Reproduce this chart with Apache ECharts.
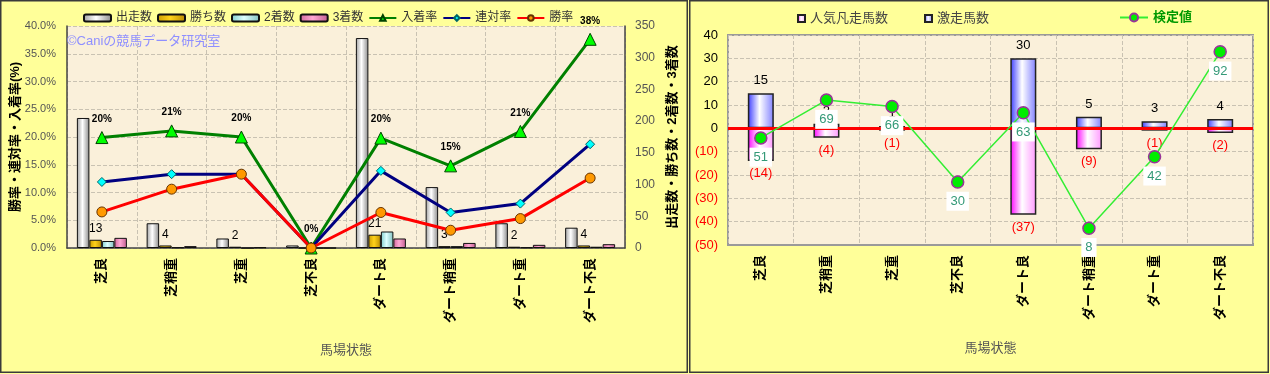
<!DOCTYPE html>
<html><head><meta charset="utf-8">
<script src="https://cdn.jsdelivr.net/npm/echarts@6/dist/echarts.min.js"></script>
<style>
html,body{margin:0;padding:0;background:#FFFF99;width:1270px;height:374px;overflow:hidden}
#c1{position:absolute;left:0;top:0;width:689px;height:374px}
#c2{position:absolute;left:689px;top:0;width:581px;height:374px}
</style></head><body>
<div id="c1"></div><div id="c2"></div>
<script>
// ---- data: left chart ----
const categories = ['芝良','芝稍重','芝重','芝不良','ダート良','ダート稍重','ダート重','ダート不良'];
const starts  = [205, 39, 15, 4, 331, 96, 39, 32];
const wins    = [13, 4, 2, 0, 21, 3, 2, 4];
const seconds = [11, 1, 0, 0, 26, 3, 1, 2];
const thirds  = [16, 3, 1, 0, 15, 8, 5, 6];
const placeRate    = [0.199, 0.211, 0.200, 0, 0.198, 0.148, 0.210, 0.376];
const quinellaRate = [0.119, 0.133, 0.133, 0, 0.139, 0.064, 0.080, 0.187];
const winRate      = [0.065, 0.106, 0.133, 0, 0.064, 0.032, 0.053, 0.126];
// ---- data: right chart ----
const upsetCounts = [15, 2, 1, 0, 30, 5, 3, 4];
const flopCounts  = [-14, -4, -1, 0, -37, -9, -1, -2];
const testValues  = [51, 69, 66, 30, 63, 8, 42, 92];

const FONT = "'Liberation Sans','Noto Sans CJK JP',sans-serif";
const grad = (a, b, c) => new echarts.graphic.LinearGradient(0, 0, 1, 0,
  [{offset: 0, color: a}, {offset: 0.45, color: b}, {offset: 1, color: c}]);
const gridLine = {show: true, lineStyle: {color: '#c9c2b2', type: 'dashed', width: 1}};

const left = echarts.init(document.getElementById('c1'));
left.setOption({
  animation: false,
  textStyle: {fontFamily: FONT},
  graphic: [
    {type: 'rect', shape: {x: 0.75, y: 0.75, width: 686.5, height: 371.5}, style: {fill: null, stroke: '#3a3a3a', lineWidth: 1.5}, silent: true, z: 100},
    {type: 'text', left: 67, top: 35, style: {text: '©Caniの競馬データ研究室', fill: '#8f8fff', font: '13px ' + FONT}, z: 50}
  ],
  legend: {left: 83, top: 12, padding: 0, itemWidth: 27, itemHeight: 7, itemGap: 5,
    textStyle: {fontSize: 12, color: '#333'},
    data: ['出走数', '勝ち数', '2着数', '3着数', '入着率', '連対率', '勝率']},
  grid: {left: 67, top: 26, width: 558, height: 222, show: true, backgroundColor: '#FAF0DA', borderWidth: 0,
    outerBoundsMode: 'none', containLabel: false},
  xAxis: {type: 'category', data: categories,
    axisTick: {show: false},
    axisLine: {onZero: false, lineStyle: {color: '#444', width: 1.5}},
    axisLabel: {rotate: 90, margin: 10, fontSize: 13, color: '#000', fontWeight: 'bold'},
    splitLine: gridLine,
    name: '馬場状態', nameLocation: 'middle', nameGap: 96, nameMoveOverlap: false,
    nameTextStyle: {fontSize: 13, color: '#555'}},
  yAxis: [
    {type: 'value', min: 0, max: 0.4, interval: 0.05,
      axisLine: {show: true, lineStyle: {color: '#444', width: 1.5}},
      axisTick: {show: false},
      axisLabel: {formatter: v => (v * 100).toFixed(1) + '%', fontSize: 11, color: '#555', margin: 11},
      splitLine: gridLine,
      name: '勝率・連対率・入着率(%)', nameLocation: 'middle', nameRotate: 90, nameGap: 45, nameMoveOverlap: false,
      nameTextStyle: {fontSize: 13, fontWeight: 'bold', color: '#000'}},
    {type: 'value', min: 0, max: 350, interval: 50, position: 'right',
      axisLine: {show: true, lineStyle: {color: '#444', width: 1.5}},
      axisTick: {show: false},
      splitLine: {show: false},
      axisLabel: {fontSize: 12, color: '#555', margin: 10},
      name: '出走数・勝ち数・2着数・3着数', nameLocation: 'middle', nameRotate: 90, nameGap: 38,
      nameTextStyle: {fontSize: 13, fontWeight: 'bold', color: '#000'}}
  ],
  series: [
    {name: '出走数', type: 'bar', yAxisIndex: 1, data: starts, barWidth: 12.5, barGap: '0%',
      itemStyle: {color: grad('#a0a0a0', '#ffffff', '#8a8a8a'), borderColor: '#111', borderWidth: 1}},
    {name: '勝ち数', type: 'bar', yAxisIndex: 1, data: wins, barWidth: 12.5, barGap: '0%',
      itemStyle: {color: grad('#c99a00', '#ffd21a', '#b88a00'), borderColor: '#111', borderWidth: 1},
      label: {show: true, position: 'top', distance: 5, fontSize: 12, color: '#000',
        formatter: p => p.value ? String(p.value) : ''}},
    {name: '2着数', type: 'bar', yAxisIndex: 1, data: seconds, barWidth: 12.5, barGap: '0%',
      itemStyle: {color: grad('#7fcccc', '#ddffff', '#7fbfbf'), borderColor: '#111', borderWidth: 1}},
    {name: '3着数', type: 'bar', yAxisIndex: 1, data: thirds, barWidth: 12.5, barGap: '0%',
      itemStyle: {color: grad('#d1679c', '#ffa8d4', '#c25c90'), borderColor: '#111', borderWidth: 1}},
    {name: '入着率', type: 'line', yAxisIndex: 0, data: placeRate, symbol: 'triangle', symbolSize: 12, z: 5,
      lineStyle: {color: '#008000', width: 3},
      itemStyle: {color: '#00ff00', borderColor: '#004400', borderWidth: 1},
      label: {show: true, position: 'top', distance: 7, fontSize: 10, fontWeight: 'bold', color: '#000',
        formatter: p => Math.round(p.value * 100) + '%'}},
    {name: '連対率', type: 'line', yAxisIndex: 0, data: quinellaRate, symbol: 'diamond', symbolSize: 9, z: 5,
      lineStyle: {color: '#000080', width: 3},
      itemStyle: {color: '#00ffff', borderColor: '#006666', borderWidth: 1}},
    {name: '勝率', type: 'line', yAxisIndex: 0, data: winRate, symbol: 'circle', symbolSize: 10, z: 5,
      lineStyle: {color: '#ff0000', width: 3},
      itemStyle: {color: '#ff9900', borderColor: '#663300', borderWidth: 1}}
  ]
});

const right = echarts.init(document.getElementById('c2'));
right.setOption({
  animation: false,
  textStyle: {fontFamily: FONT},
  graphic: [
    {type: 'rect', shape: {x: 0.75, y: 0.75, width: 578.5, height: 371.5}, style: {fill: null, stroke: '#3a3a3a', lineWidth: 1.5}, silent: true, z: 100}
  ],
  legend: [
    {left: 108, top: 12, padding: 0, itemWidth: 7, itemHeight: 7, itemGap: 36, icon: 'rect',
      textStyle: {fontSize: 13, color: '#444'}, data: ['人気凡走馬数', '激走馬数']},
    {left: 430, top: 11, padding: 0, itemWidth: 28, itemHeight: 10,
      textStyle: {fontSize: 13, color: '#009900', fontWeight: 'bold'}, data: ['検定値']}
  ],
  grid: {left: 39, top: 35, width: 525, height: 210, show: true, backgroundColor: '#FAF0DA', borderColor: '#9a9a9a', borderWidth: 2,
    outerBoundsMode: 'none', containLabel: false},
  xAxis: {type: 'category', data: categories,
    axisTick: {show: false},
    axisLine: {onZero: false, lineStyle: {color: '#9a9a9a', width: 2}},
    axisLabel: {rotate: 90, margin: 10, fontSize: 13, color: '#000', fontWeight: 'bold'},
    splitLine: gridLine,
    name: '馬場状態', nameLocation: 'middle', nameGap: 97, nameMoveOverlap: false,
    nameTextStyle: {fontSize: 13, color: '#555'}},
  yAxis: [
    {type: 'value', min: -50, max: 40, interval: 10,
      axisLine: {show: false}, axisTick: {show: false},
      axisLabel: {fontSize: 13, margin: 10,
        formatter: v => v < 0 ? '(' + (-v) + ')' : String(v),
        color: v => Number(v) < 0 ? '#ff0000' : '#000'},
      splitLine: gridLine},
    {type: 'value', min: 0, max: 100, show: false, splitLine: {show: false}}
  ],
  series: [
    {name: '人気凡走馬数', type: 'bar', stack: 's', data: flopCounts, barWidth: 26,
      itemStyle: {color: grad('#ff00ff', '#ffffff', '#ff99ff'), borderColor: '#222', borderWidth: 1.5},
      label: {show: true, position: 'bottom', distance: 6, fontSize: 13, color: '#ff0000',
        formatter: p => p.value ? '(' + (-p.value) + ')' : ''},
      markLine: {silent: true, symbol: 'none', label: {show: false},
        lineStyle: {color: '#ff0000', width: 3, type: 'solid'}, data: [{yAxis: 0}]}},
    {name: '激走馬数', type: 'bar', stack: 's', data: upsetCounts, barWidth: 26,
      itemStyle: {color: grad('#3b3bff', '#ffffff', '#8080ff'), borderColor: '#222', borderWidth: 1.5},
      label: {show: true, position: 'top', distance: 6, fontSize: 13, color: '#000',
        formatter: p => p.value ? String(p.value) : ''}},
    {name: '検定値', type: 'line', yAxisIndex: 1, data: testValues, symbol: 'circle', symbolSize: 12, z: 10,
      lineStyle: {color: '#33ee33', width: 1.5},
      itemStyle: {color: '#00ee00', borderColor: '#993399', borderWidth: 1.5},
      label: {show: true, position: 'bottom', distance: 3, fontSize: 13, color: '#339977',
        backgroundColor: '#ffffff', padding: [3, 4]}}
  ]
});
</script>
</body></html>
